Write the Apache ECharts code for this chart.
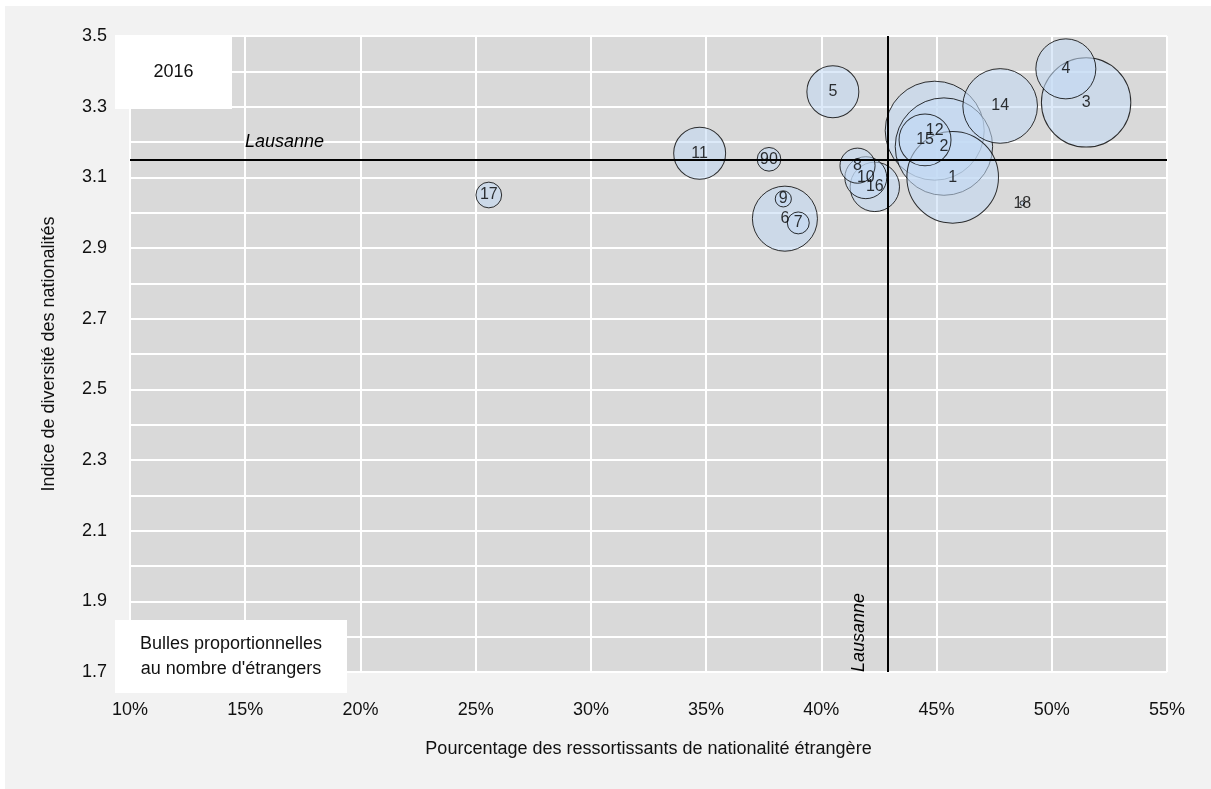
<!DOCTYPE html>
<html>
<head>
<meta charset="utf-8">
<script src="https://cdn.jsdelivr.net/npm/echarts@6/dist/echarts.min.js"></script>
<style>
html,body{margin:0;padding:0;background:#ffffff;}
#chart{position:absolute;left:5px;top:6px;width:1206px;height:783px;}
</style>
</head>
<body>
<div id="chart"></div>
<script>
// Data
const districts   = ['1','2','3','4','5','6','7','8','9','10','11','12','14','15','16','17','18','90'];
const pctForeign  = [45.70, 45.32, 51.49, 50.61, 40.50, 38.42, 39.00, 41.57, 38.35, 41.93, 34.72, 44.92, 47.76, 44.50, 42.32, 25.57, 48.72, 37.73];
const diversity   = [3.100, 3.187, 3.312, 3.407, 3.342, 2.983, 2.971, 3.133, 3.039, 3.099, 3.168, 3.232, 3.302, 3.206, 3.073, 3.050, 3.027, 3.151];
const nbForeigners= [8390, 9490, 7990, 3600, 2700, 4230, 480, 1230, 260, 1760, 2700, 9800, 5570, 2700, 2440, 660, 20, 560];
const lausannePct = 42.9;
const lausanneDiv = 3.15;
const xTicks = {min: 10, max: 55, step: 5};
const yTicks = {min: 1.7, max: 3.5, step: 0.1};

const FONT = "'Liberation Sans', Arial, sans-serif";
const FS = 18;

const points = districts.map((d, i) => [pctForeign[i], diversity[i], nbForeigners[i], d])
  .sort((a, b) => b[2] - a[2]);

const chart = echarts.init(document.getElementById('chart'));
chart.setOption({
  backgroundColor: '#f2f2f2',
  animation: false,
  textStyle: {fontFamily: FONT},
  grid: {
    left: 125, top: 30, width: 1037, height: 636,
    show: true, backgroundColor: '#d9d9d9', borderWidth: 0
  },
  xAxis: {
    type: 'value', min: xTicks.min, max: xTicks.max, interval: xTicks.step,
    axisLine: {show: false}, axisTick: {show: false},
    splitLine: {show: true, lineStyle: {color: '#ffffff', width: 2}},
    axisLabel: {formatter: '{value}%', color: '#111111', fontSize: FS, margin: 29, fontFamily: FONT},
    name: 'Pourcentage des ressortissants de nationalité étrangère',
    nameLocation: 'middle', nameGap: 68,
    nameTextStyle: {color: '#111111', fontSize: FS, fontFamily: FONT}
  },
  yAxis: {
    type: 'value', min: yTicks.min, max: yTicks.max, interval: yTicks.step,
    axisLine: {show: false}, axisTick: {show: false},
    splitLine: {show: true, lineStyle: {color: '#ffffff', width: 2}},
    axisLabel: {
      color: '#111111', fontSize: FS, margin: 23, fontFamily: FONT,
      formatter: v => (Math.round(v * 10) % 2 === 1) ? v.toFixed(1) : ''
    },
    name: 'Indice de diversité des nationalités',
    nameLocation: 'middle', nameGap: 72, nameRotate: 90,
    nameTextStyle: {color: '#111111', fontSize: FS, fontFamily: FONT}
  },
  series: [{
    type: 'scatter',
    data: points,
    symbolSize: v => Math.sqrt(v[2]),
    itemStyle: {color: 'rgba(194,217,244,0.7)', borderColor: '#000000', borderWidth: 1},
    label: {
      show: true, position: 'inside', formatter: p => p.data[3],
      color: '#000000', fontSize: 16, fontFamily: FONT
    },
    emphasis: {disabled: true},
    markLine: {
      silent: true, symbol: 'none', animation: false,
      lineStyle: {color: '#000000', width: 2, type: 'solid'},
      data: [
        {xAxis: lausannePct, label: {show: true, formatter: 'Lausanne', position: 'insideStartTop', distance: [0, 20],
          fontStyle: 'italic', fontSize: FS, color: '#000000', fontFamily: FONT}},
        {yAxis: lausanneDiv, label: {show: true, formatter: 'Lausanne', position: 'insideStartTop', distance: [115, 9],
          fontStyle: 'italic', fontSize: FS, color: '#000000', fontFamily: FONT}}
      ]
    }
  }],
  graphic: [
    {type: 'rect', left: 110, top: 29, zlevel: 1, z: 100, shape: {width: 117, height: 74}, style: {fill: '#ffffff'}},
    {type: 'text', x: 168.5, y: 66, zlevel: 1, z: 101,
      style: {text: '2016', fontSize: FS, fontFamily: FONT, fill: '#111111', align: 'center', verticalAlign: 'middle'}},
    {type: 'rect', left: 110, top: 614, zlevel: 1, z: 100, shape: {width: 232, height: 73}, style: {fill: '#ffffff'}},
    {type: 'text', x: 226, y: 651, zlevel: 1, z: 101,
      style: {text: 'Bulles proportionnelles\nau nombre d\'étrangers', fontSize: FS, fontFamily: FONT, lineHeight: 25,
        fill: '#111111', align: 'center', verticalAlign: 'middle'}}
  ]
});
</script>
</body>
</html>
